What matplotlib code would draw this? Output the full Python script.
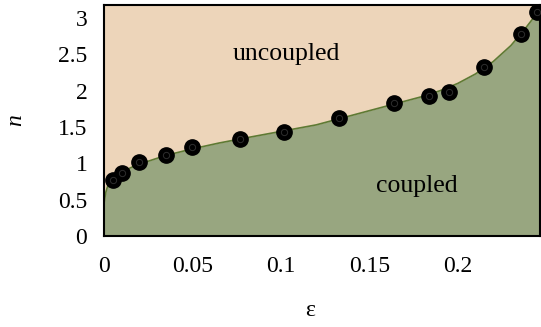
import numpy as np
import matplotlib
matplotlib.use("Agg")
import matplotlib.pyplot as plt

plt.rcParams['font.family'] = ['Liberation Serif', 'DejaVu Serif']

# measured points
eps_pts = [0.005, 0.010, 0.020, 0.035, 0.050, 0.077, 0.102, 0.133, 0.164, 0.184, 0.195, 0.215, 0.236, 0.245]
n_pts = [0.77, 0.87, 1.02, 1.11, 1.23, 1.33, 1.43, 1.63, 1.83, 1.93, 1.98, 2.33, 2.78, 3.08]

# boundary curve
eps_curve = [0.0, 0.001, 0.002, 0.004, 0.007, 0.010, 0.015, 0.020, 0.030, 0.040, 0.050, 0.065,
             0.080, 0.100, 0.120, 0.140, 0.160, 0.180, 0.190, 0.200, 0.210, 0.220, 0.230, 0.238, 0.2465]
n_curve = [0.45, 0.60, 0.68, 0.75, 0.82, 0.87, 0.94, 0.99, 1.07, 1.14, 1.20, 1.28,
           1.35, 1.44, 1.53, 1.66, 1.79, 1.92, 2.00, 2.10, 2.23, 2.40, 2.62, 2.85, 3.12]

xticks = [0, 0.05, 0.1, 0.15, 0.2]
yticks = [0, 0.5, 1, 1.5, 2, 2.5, 3]
xmax, ymax = 0.2465, 3.18

fig = plt.figure(figsize=(5.41, 3.27), dpi=100)
ax = fig.add_axes([0.1922, 0.278, 0.806, 0.707])

ax.set_facecolor('#EDD5BA')
ax.fill_between(eps_curve, 0, n_curve, color='#98A680', lw=0)
ax.plot(eps_curve, n_curve, color='#5E7A34', lw=1.2)
ax.plot(eps_pts, n_pts, 'o', ms=11, mfc='black', mec='black', clip_on=False, zorder=5)
ax.plot(eps_pts, n_pts, 'o', ms=4.5, mfc='none', mec='#2e2e2e', mew=0.7, clip_on=False, zorder=6)

ax.set_xlim(0, xmax)
ax.set_ylim(0, ymax)
ax.set_xticks(xticks)
ax.set_xticklabels(['0', '0.05', '0.1', '0.15', '0.2'])
ax.set_yticks(yticks)
ax.set_yticklabels(['0', '0.5', '1', '1.5', '2', '2.5', '3'])
ax.tick_params(length=0, labelsize=17)
ax.tick_params(axis='x', pad=14)
ax.tick_params(axis='y', pad=12)
for s in ax.spines.values():
    s.set_linewidth(1.5)

ax.text(0.103, 2.5, 'uncoupled', fontsize=18.5, ha='center', va='center')
ax.text(0.177, 0.69, 'coupled', fontsize=18.5, ha='center', va='center')

fig.text(16 / 541, 1 - 120 / 327, 'n', fontsize=17, style='italic', rotation=90, ha='center', va='center')
fig.text(310 / 541, 1 - 310 / 327, 'ε', fontsize=17, ha='center', va='center')

fig.savefig('out.png', dpi=100)
